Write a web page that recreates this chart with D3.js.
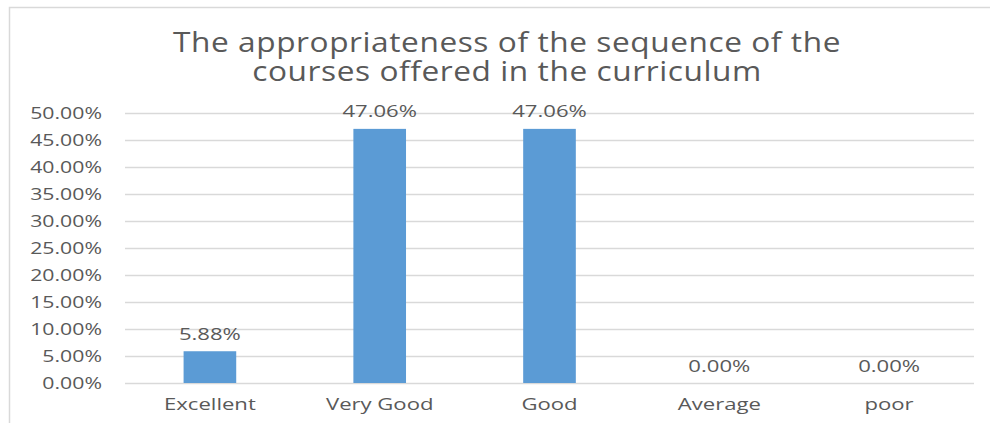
<!DOCTYPE html>
<html>
<head>
<meta charset="utf-8">
<script src="https://cdn.jsdelivr.net/npm/d3@7"></script>
<style>
  body { margin: 0; background: #fff; }
  text { font-family: "Open Sans", sans-serif; fill: #595959; }
</style>
</head>
<body>
<svg id="chart" width="990" height="423"></svg>
<script>
// chart data
const categories = ["Excellent", "Very Good", "Good", "Average", "poor"];
const values = [5.88, 47.06, 47.06, 0, 0];
const yTicks = [0, 5, 10, 15, 20, 25, 30, 35, 40, 45, 50];
const titleLines = ["The appropriateness of the sequence of the", "courses offered in the curriculum"];

const svg = d3.select("#chart");
const plotLeft = 125, plotRight = 974, plotTop = 113, plotBottom = 383;
const labelStretch = 1.38; //the picture's text is drawn wide

//outer frame (open at right / bottom as in the cropped picture)
svg.append("path")
    .attr("d", "M9.5,423 L9.5,7.5 L990,7.5")
    .attr("fill", "none")
    .attr("stroke", "#d9d9d9")
    .attr("stroke-width", 1.5);

const x = d3.scaleBand()
    .domain(categories)
    .range([plotLeft, plotRight])
    .paddingInner(0.69)
    .paddingOuter(0.345);

const y = d3.scaleLinear()
    .domain([0, 50])
    .range([plotBottom, plotTop]);

//grid lines
svg.append("g")
    .selectAll("line")
    .data(yTicks)
    .join("line")
    .attr("x1", plotLeft)
    .attr("x2", plotRight)
    .attr("y1", d => Math.round(y(d)) + 0.5)
    .attr("y2", d => Math.round(y(d)) + 0.5)
    .attr("stroke", "#d9d9d9")
    .attr("stroke-width", 1.5);

//y axis labels
const yAxis = d3.axisLeft(y)
    .tickValues(yTicks)
    .tickFormat(d => d.toFixed(2) + "%")
    .tickSize(0)
    .tickPadding(0);

const yg = svg.append("g")
    .attr("transform", `translate(${102},0)`)
    .call(yAxis);
yg.select(".domain").remove();
yg.selectAll("text")
    .attr("font-size", 16)
    .attr("font-family", "Open Sans, sans-serif")
    .attr("fill", "#595959")
    .attr("dy", "0.35em")
    .attr("transform", "scale(1.33,1)");

//bars
svg.append("g")
    .selectAll("rect")
    .data(values)
    .join("rect")
    .attr("x", (d, i) => x(categories[i]))
    .attr("y", d => y(d))
    .attr("width", x.bandwidth())
    .attr("height", d => plotBottom - y(d))
    .attr("fill", "#5b9bd5");

//data labels
svg.append("g")
    .selectAll("text")
    .data(values)
    .join("text")
    .attr("transform", (d, i) => `translate(${x(categories[i]) + x.bandwidth() / 2},${y(d) - 11.5}) scale(${labelStretch},1)`)
    .attr("text-anchor", "middle")
    .attr("font-size", 16)
    .text(d => d.toFixed(2) + "%");

//x axis labels
const xAxis = d3.axisBottom(x).tickSize(0).tickPadding(0);
const xg = svg.append("g")
    .attr("transform", `translate(0,${plotBottom + 16})`)
    .call(xAxis);
xg.select(".domain").remove();
xg.selectAll("text")
    .attr("font-size", 16)
    .attr("font-family", "Open Sans, sans-serif")
    .attr("fill", "#595959")
    .attr("dy", "0.71em")
    .attr("transform", `scale(${labelStretch},1)`);

//title
svg.append("g")
    .selectAll("text")
    .data(titleLines)
    .join("text")
    .attr("transform", (d, i) => `translate(507,${52 + i * 29}) scale(1.15,1)`)
    .attr("text-anchor", "middle")
    .attr("font-size", 27.5)
    .attr("letter-spacing", 0.5)
    .text(d => d);
</script>
</body>
</html>
